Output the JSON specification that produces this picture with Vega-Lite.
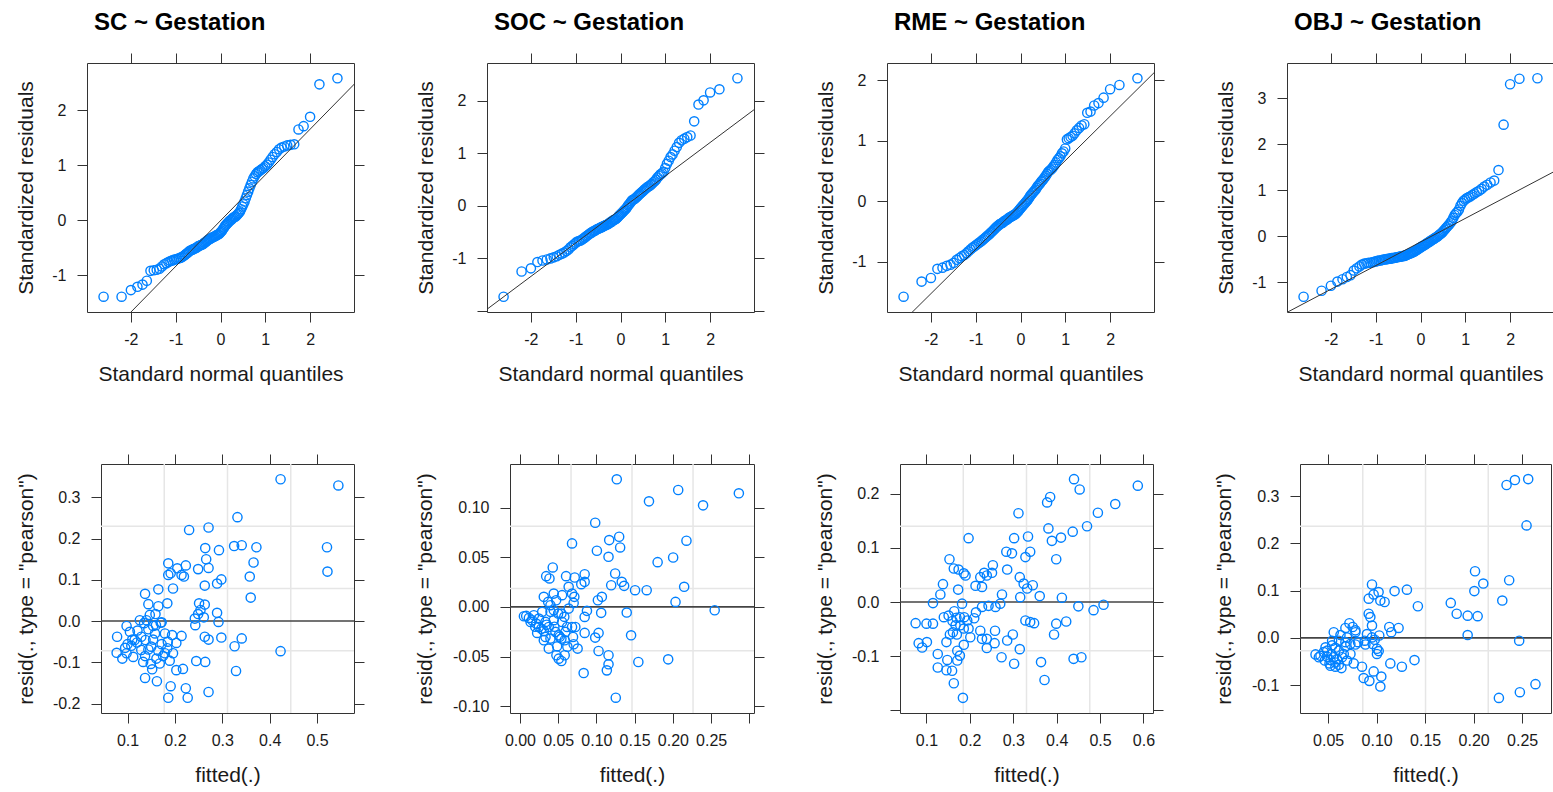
{
"$schema": "https://vega.github.io/schema/vega-lite/v6.json",
"background": "white",
"padding": {"left": 14, "top": 10, "right": 0, "bottom": 0},
"autosize": {"type": "pad"},
"datasets": {
"qq": [
{"q":-2.610,"sc":-1.39,"soc":-1.73,"rme":-1.58,"obj":-1.32},
{"q":-2.208,"sc":-1.39,"soc":-1.25,"rme":-1.33,"obj":-1.19},
{"q":-2.000,"sc":-1.27,"soc":-1.19,"rme":-1.27,"obj":-1.08},
{"q":-1.855,"sc":-1.21,"soc":-1.07,"rme":-1.12,"obj":-0.99},
{"q":-1.741,"sc":-1.17,"soc":-1.04,"rme":-1.10,"obj":-0.94},
{"q":-1.645,"sc":-1.10,"soc":-1.02,"rme":-1.07,"obj":-0.89},
{"q":-1.563,"sc":-0.92,"soc":-1.00,"rme":-1.05,"obj":-0.85},
{"q":-1.490,"sc":-0.91,"soc":-0.98,"rme":-1.02,"obj":-0.75},
{"q":-1.424,"sc":-0.90,"soc":-0.96,"rme":-0.97,"obj":-0.70},
{"q":-1.363,"sc":-0.88,"soc":-0.93,"rme":-0.94,"obj":-0.66},
{"q":-1.308,"sc":-0.84,"soc":-0.91,"rme":-0.91,"obj":-0.62},
{"q":-1.256,"sc":-0.80,"soc":-0.89,"rme":-0.89,"obj":-0.60},
{"q":-1.207,"sc":-0.78,"soc":-0.86,"rme":-0.86,"obj":-0.59},
{"q":-1.162,"sc":-0.76,"soc":-0.83,"rme":-0.83,"obj":-0.58},
{"q":-1.118,"sc":-0.74,"soc":-0.79,"rme":-0.80,"obj":-0.58},
{"q":-1.076,"sc":-0.73,"soc":-0.76,"rme":-0.77,"obj":-0.57},
{"q":-1.036,"sc":-0.72,"soc":-0.73,"rme":-0.75,"obj":-0.56},
{"q":-0.998,"sc":-0.71,"soc":-0.70,"rme":-0.73,"obj":-0.55},
{"q":-0.961,"sc":-0.70,"soc":-0.68,"rme":-0.71,"obj":-0.54},
{"q":-0.926,"sc":-0.69,"soc":-0.67,"rme":-0.69,"obj":-0.53},
{"q":-0.892,"sc":-0.68,"soc":-0.66,"rme":-0.67,"obj":-0.53},
{"q":-0.858,"sc":-0.67,"soc":-0.64,"rme":-0.65,"obj":-0.52},
{"q":-0.826,"sc":-0.65,"soc":-0.62,"rme":-0.63,"obj":-0.51},
{"q":-0.794,"sc":-0.63,"soc":-0.60,"rme":-0.61,"obj":-0.51},
{"q":-0.763,"sc":-0.61,"soc":-0.58,"rme":-0.59,"obj":-0.50},
{"q":-0.733,"sc":-0.59,"soc":-0.56,"rme":-0.57,"obj":-0.50},
{"q":-0.703,"sc":-0.57,"soc":-0.54,"rme":-0.55,"obj":-0.49},
{"q":-0.674,"sc":-0.55,"soc":-0.52,"rme":-0.53,"obj":-0.49},
{"q":-0.646,"sc":-0.54,"soc":-0.51,"rme":-0.51,"obj":-0.48},
{"q":-0.618,"sc":-0.53,"soc":-0.49,"rme":-0.49,"obj":-0.48},
{"q":-0.590,"sc":-0.52,"soc":-0.48,"rme":-0.47,"obj":-0.47},
{"q":-0.564,"sc":-0.51,"soc":-0.47,"rme":-0.45,"obj":-0.47},
{"q":-0.537,"sc":-0.50,"soc":-0.45,"rme":-0.43,"obj":-0.46},
{"q":-0.511,"sc":-0.48,"soc":-0.44,"rme":-0.41,"obj":-0.46},
{"q":-0.485,"sc":-0.47,"soc":-0.43,"rme":-0.40,"obj":-0.45},
{"q":-0.460,"sc":-0.46,"soc":-0.42,"rme":-0.38,"obj":-0.45},
{"q":-0.434,"sc":-0.45,"soc":-0.41,"rme":-0.37,"obj":-0.44},
{"q":-0.410,"sc":-0.44,"soc":-0.40,"rme":-0.36,"obj":-0.44},
{"q":-0.385,"sc":-0.43,"soc":-0.39,"rme":-0.35,"obj":-0.43},
{"q":-0.361,"sc":-0.41,"soc":-0.38,"rme":-0.33,"obj":-0.43},
{"q":-0.337,"sc":-0.40,"soc":-0.37,"rme":-0.32,"obj":-0.42},
{"q":-0.313,"sc":-0.38,"soc":-0.36,"rme":-0.31,"obj":-0.41},
{"q":-0.289,"sc":-0.37,"soc":-0.35,"rme":-0.30,"obj":-0.40},
{"q":-0.266,"sc":-0.35,"soc":-0.34,"rme":-0.28,"obj":-0.39},
{"q":-0.242,"sc":-0.34,"soc":-0.32,"rme":-0.27,"obj":-0.38},
{"q":-0.219,"sc":-0.33,"soc":-0.31,"rme":-0.26,"obj":-0.37},
{"q":-0.196,"sc":-0.32,"soc":-0.30,"rme":-0.25,"obj":-0.36},
{"q":-0.172,"sc":-0.31,"soc":-0.28,"rme":-0.24,"obj":-0.35},
{"q":-0.149,"sc":-0.30,"soc":-0.27,"rme":-0.23,"obj":-0.34},
{"q":-0.126,"sc":-0.29,"soc":-0.26,"rme":-0.22,"obj":-0.33},
{"q":-0.103,"sc":-0.28,"soc":-0.25,"rme":-0.21,"obj":-0.31},
{"q":-0.080,"sc":-0.27,"soc":-0.23,"rme":-0.19,"obj":-0.30},
{"q":-0.057,"sc":-0.26,"soc":-0.21,"rme":-0.17,"obj":-0.28},
{"q":-0.034,"sc":-0.25,"soc":-0.19,"rme":-0.15,"obj":-0.27},
{"q":-0.011,"sc":-0.23,"soc":-0.17,"rme":-0.13,"obj":-0.25},
{"q":0.011,"sc":-0.21,"soc":-0.15,"rme":-0.11,"obj":-0.24},
{"q":0.034,"sc":-0.19,"soc":-0.13,"rme":-0.09,"obj":-0.22},
{"q":0.057,"sc":-0.16,"soc":-0.11,"rme":-0.07,"obj":-0.21},
{"q":0.080,"sc":-0.13,"soc":-0.09,"rme":-0.05,"obj":-0.20},
{"q":0.103,"sc":-0.10,"soc":-0.07,"rme":-0.03,"obj":-0.18},
{"q":0.126,"sc":-0.08,"soc":-0.05,"rme":-0.01,"obj":-0.17},
{"q":0.149,"sc":-0.06,"soc":-0.02,"rme":0.01,"obj":-0.15},
{"q":0.172,"sc":-0.04,"soc":0.01,"rme":0.03,"obj":-0.14},
{"q":0.196,"sc":-0.02,"soc":0.03,"rme":0.06,"obj":-0.12},
{"q":0.219,"sc":0.00,"soc":0.06,"rme":0.09,"obj":-0.11},
{"q":0.242,"sc":0.01,"soc":0.09,"rme":0.11,"obj":-0.09},
{"q":0.266,"sc":0.03,"soc":0.11,"rme":0.13,"obj":-0.08},
{"q":0.289,"sc":0.05,"soc":0.12,"rme":0.15,"obj":-0.06},
{"q":0.313,"sc":0.06,"soc":0.13,"rme":0.17,"obj":-0.05},
{"q":0.337,"sc":0.07,"soc":0.15,"rme":0.19,"obj":-0.03},
{"q":0.361,"sc":0.09,"soc":0.17,"rme":0.22,"obj":-0.02},
{"q":0.385,"sc":0.11,"soc":0.19,"rme":0.25,"obj":0.00},
{"q":0.410,"sc":0.13,"soc":0.21,"rme":0.27,"obj":0.02},
{"q":0.434,"sc":0.16,"soc":0.23,"rme":0.29,"obj":0.04},
{"q":0.460,"sc":0.20,"soc":0.25,"rme":0.32,"obj":0.06},
{"q":0.485,"sc":0.25,"soc":0.27,"rme":0.34,"obj":0.08},
{"q":0.511,"sc":0.29,"soc":0.29,"rme":0.36,"obj":0.11},
{"q":0.537,"sc":0.34,"soc":0.31,"rme":0.39,"obj":0.14},
{"q":0.564,"sc":0.40,"soc":0.33,"rme":0.42,"obj":0.17},
{"q":0.590,"sc":0.46,"soc":0.35,"rme":0.45,"obj":0.20},
{"q":0.618,"sc":0.52,"soc":0.37,"rme":0.48,"obj":0.23},
{"q":0.646,"sc":0.58,"soc":0.38,"rme":0.50,"obj":0.26},
{"q":0.674,"sc":0.64,"soc":0.40,"rme":0.52,"obj":0.30},
{"q":0.703,"sc":0.70,"soc":0.42,"rme":0.54,"obj":0.34},
{"q":0.733,"sc":0.76,"soc":0.45,"rme":0.57,"obj":0.40},
{"q":0.763,"sc":0.80,"soc":0.47,"rme":0.60,"obj":0.46},
{"q":0.794,"sc":0.84,"soc":0.50,"rme":0.64,"obj":0.50},
{"q":0.826,"sc":0.87,"soc":0.54,"rme":0.68,"obj":0.53},
{"q":0.858,"sc":0.89,"soc":0.57,"rme":0.71,"obj":0.58},
{"q":0.892,"sc":0.91,"soc":0.60,"rme":0.74,"obj":0.66},
{"q":0.926,"sc":0.93,"soc":0.62,"rme":0.79,"obj":0.72},
{"q":0.961,"sc":0.95,"soc":0.65,"rme":0.82,"obj":0.77},
{"q":0.998,"sc":0.98,"soc":0.72,"rme":0.87,"obj":0.80},
{"q":1.036,"sc":1.01,"soc":0.80,"rme":1.02,"obj":0.83},
{"q":1.076,"sc":1.05,"soc":0.86,"rme":1.04,"obj":0.85},
{"q":1.118,"sc":1.10,"soc":0.93,"rme":1.06,"obj":0.87},
{"q":1.162,"sc":1.15,"soc":0.98,"rme":1.08,"obj":0.90},
{"q":1.207,"sc":1.20,"soc":1.05,"rme":1.12,"obj":0.93},
{"q":1.256,"sc":1.24,"soc":1.12,"rme":1.17,"obj":0.96},
{"q":1.308,"sc":1.29,"soc":1.20,"rme":1.21,"obj":0.99},
{"q":1.363,"sc":1.32,"soc":1.25,"rme":1.25,"obj":1.03},
{"q":1.424,"sc":1.34,"soc":1.28,"rme":1.27,"obj":1.08},
{"q":1.490,"sc":1.36,"soc":1.31,"rme":1.46,"obj":1.12},
{"q":1.563,"sc":1.37,"soc":1.34,"rme":1.48,"obj":1.17},
{"q":1.645,"sc":1.38,"soc":1.61,"rme":1.58,"obj":1.21},
{"q":1.741,"sc":1.65,"soc":1.93,"rme":1.62,"obj":1.44},
{"q":1.855,"sc":1.71,"soc":2.01,"rme":1.71,"obj":2.43},
{"q":2.000,"sc":1.88,"soc":2.16,"rme":1.85,"obj":3.31},
{"q":2.208,"sc":2.47,"soc":2.22,"rme":1.92,"obj":3.43},
{"q":2.610,"sc":2.58,"soc":2.43,"rme":2.03,"obj":3.44}
],
"qqline": [
{"m":"SC","x":-3.5,"y":-2.916},{"m":"SC","x":3.5,"y":2.901},
{"m":"SOC","x":-3.5,"y":-2.30},{"m":"SOC","x":3.5,"y":2.163},
{"m":"RME","x":-3.5,"y":-2.63},{"m":"RME","x":3.5,"y":2.503},
{"m":"OBJ","x":-3.5,"y":-1.929},{"m":"OBJ","x":3.5,"y":1.673}
],
"vgrid": [
{"m":"SC","v":0.1775},{"m":"SC","v":0.311},{"m":"SC","v":0.4445},
{"m":"SOC","v":0.0668},{"m":"SOC","v":0.1465},{"m":"SOC","v":0.2263},
{"m":"RME","v":0.1848},{"m":"RME","v":0.3305},{"m":"RME","v":0.4763},
{"m":"OBJ","v":0.0857},{"m":"OBJ","v":0.1504},{"m":"OBJ","v":0.215}
],
"hgrid": [
{"m":"SC","v":-0.072},{"m":"SC","v":0.079},{"m":"SC","v":0.230},
{"m":"SOC","v":-0.0442},{"m":"SOC","v":0.0185},{"m":"SOC","v":0.0811},
{"m":"RME","v":-0.09},{"m":"RME","v":0.025},{"m":"RME","v":0.14},
{"m":"OBJ","v":-0.0273},{"m":"OBJ","v":0.1045},{"m":"OBJ","v":0.2363}
],
"rsc": [
{"f":0.423,"r":0.344},{"f":0.545,"r":0.329},{"f":0.332,"r":0.252},{"f":0.230,"r":0.221},{"f":0.271,"r":0.227},{"f":0.325,"r":0.182},{"f":0.341,"r":0.184},{"f":0.372,"r":0.179},{"f":0.521,"r":0.179},{"f":0.264,"r":0.177},{"f":0.293,"r":0.172},{"f":0.266,"r":0.150},{"f":0.366,"r":0.142},{"f":0.186,"r":0.140},{"f":0.223,"r":0.135},{"f":0.205,"r":0.128},{"f":0.249,"r":0.126},{"f":0.271,"r":0.129},{"f":0.522,"r":0.120},{"f":0.191,"r":0.116},{"f":0.186,"r":0.112},{"f":0.214,"r":0.112},{"f":0.219,"r":0.108},{"f":0.358,"r":0.108},{"f":0.298,"r":0.101},{"f":0.289,"r":0.091},{"f":0.263,"r":0.086},{"f":0.196,"r":0.079},{"f":0.165,"r":0.077},{"f":0.137,"r":0.066},{"f":0.360,"r":0.057},{"f":0.144,"r":0.041},{"f":0.184,"r":0.043},{"f":0.251,"r":0.043},{"f":0.263,"r":0.040},{"f":0.165,"r":0.036},{"f":0.254,"r":0.027},{"f":0.289,"r":0.020},{"f":0.249,"r":0.017},{"f":0.159,"r":0.017},{"f":0.147,"r":0.015},{"f":0.242,"r":0.006},{"f":0.261,"r":0.009},{"f":0.126,"r":0.002},{"f":0.140,"r":0.002},{"f":0.292,"r":-0.002},{"f":0.170,"r":-0.004},{"f":0.243,"r":-0.010},{"f":0.098,"r":-0.012},{"f":0.154,"r":-0.012},{"f":0.172,"r":-0.003},{"f":0.105,"r":-0.026},{"f":0.121,"r":-0.023},{"f":0.144,"r":-0.020},{"f":0.078,"r":-0.038},{"f":0.129,"r":-0.038},{"f":0.158,"r":-0.030},{"f":0.179,"r":-0.030},{"f":0.194,"r":-0.034},{"f":0.214,"r":-0.036},{"f":0.263,"r":-0.038},{"f":0.271,"r":-0.045},{"f":0.298,"r":-0.040},{"f":0.341,"r":-0.042},{"f":0.138,"r":-0.046},{"f":0.154,"r":-0.045},{"f":0.100,"r":-0.056},{"f":0.115,"r":-0.046},{"f":0.203,"r":-0.053},{"f":0.326,"r":-0.061},{"f":0.172,"r":-0.056},{"f":0.184,"r":-0.066},{"f":0.144,"r":-0.069},{"f":0.165,"r":-0.072},{"f":0.423,"r":-0.073},{"f":0.077,"r":-0.077},{"f":0.098,"r":-0.078},{"f":0.129,"r":-0.070},{"f":0.179,"r":-0.078},{"f":0.196,"r":-0.078},{"f":0.089,"r":-0.091},{"f":0.112,"r":-0.087},{"f":0.137,"r":-0.085},{"f":0.161,"r":-0.091},{"f":0.189,"r":-0.096},{"f":0.133,"r":-0.099},{"f":0.245,"r":-0.097},{"f":0.264,"r":-0.099},{"f":0.149,"r":-0.104},{"f":0.168,"r":-0.103},{"f":0.152,"r":-0.117},{"f":0.203,"r":-0.119},{"f":0.217,"r":-0.116},{"f":0.329,"r":-0.121},{"f":0.137,"r":-0.138},{"f":0.162,"r":-0.146},{"f":0.191,"r":-0.158},{"f":0.223,"r":-0.163},{"f":0.271,"r":-0.172},{"f":0.186,"r":-0.186},{"f":0.227,"r":-0.186},{"f":0.095,"r":-0.065},{"f":0.108,"r":-0.060},{"f":0.120,"r":-0.052},{"f":0.150,"r":-0.062},{"f":0.175,"r":-0.085},{"f":0.160,"r":-0.010},{"f":0.135,"r":-0.005},{"f":0.110,"r":-0.045},{"f":0.185,"r":-0.050}
],
"rsoc": [
{"f":0.1266,"r":0.1284},{"f":0.2069,"r":0.1176},{"f":0.2862,"r":0.1143},{"f":0.1687,"r":0.1062},{"f":0.2394,"r":0.1022},{"f":0.0984,"r":0.0847},{"f":0.0681,"r":0.0639},{"f":0.1167,"r":0.0672},{"f":0.1297,"r":0.0706},{"f":0.1310,"r":0.0598},{"f":0.2177,"r":0.0666},{"f":0.1006,"r":0.0565},{"f":0.1158,"r":0.0504},{"f":0.2003,"r":0.0497},{"f":0.18,"r":0.045},{"f":0.0429,"r":0.0397},{"f":0.0343,"r":0.0309},{"f":0.0386,"r":0.0286},{"f":0.0603,"r":0.0309},{"f":0.0716,"r":0.0296},{"f":0.0846,"r":0.0329},{"f":0.1245,"r":0.0336},{"f":0.1331,"r":0.0252},{"f":0.1362,"r":0.0212},{"f":0.1193,"r":0.0218},{"f":0.0802,"r":0.0229},{"f":0.0846,"r":0.0252},{"f":0.0637,"r":0.0202},{"f":0.1505,"r":0.0168},{"f":0.1657,"r":0.0168},{"f":0.2147,"r":0.0202},{"f":0.0312,"r":0.0101},{"f":0.0442,"r":0.0134},{"f":0.0551,"r":0.0118},{"f":0.0681,"r":0.0134},{"f":0.0711,"r":0.0101},{"f":0.1071,"r":0.0101},{"f":0.1019,"r":0.0067},{"f":0.2034,"r":0.0050},{"f":0.0702,"r":0.0040},{"f":0.0369,"r":0.0050},{"f":0.0473,"r":0.0067},{"f":0.0399,"r":0.0017},{"f":0.0082,"r":-0.0091},{"f":0.0117,"r":-0.0111},{"f":0.016,"r":-0.0134},{"f":0.0291,"r":-0.005},{"f":0.0499,"r":-0.0067},{"f":0.0876,"r":-0.004},{"f":0.1062,"r":-0.006},{"f":0.1396,"r":-0.0057},{"f":0.2546,"r":-0.0034},{"f":0.0212,"r":-0.0168},{"f":0.0247,"r":-0.0202},{"f":0.0334,"r":-0.0151},{"f":0.0442,"r":-0.0134},{"f":0.0551,"r":-0.0151},{"f":0.0846,"r":-0.0101},{"f":0.0681,"r":-0.0202},{"f":0.0724,"r":-0.0202},{"f":0.0225,"r":-0.0262},{"f":0.0312,"r":-0.0242},{"f":0.0377,"r":-0.0202},{"f":0.0464,"r":-0.0252},{"f":0.0507,"r":-0.0286},{"f":0.0594,"r":-0.0252},{"f":0.0846,"r":-0.0262},{"f":0.1028,"r":-0.0262},{"f":0.0984,"r":-0.0309},{"f":0.1453,"r":-0.0286},{"f":0.0312,"r":-0.0336},{"f":0.0399,"r":-0.0319},{"f":0.0542,"r":-0.0319},{"f":0.0585,"r":-0.0336},{"f":0.0702,"r":-0.0376},{"f":0.0754,"r":-0.042},{"f":0.0377,"r":-0.042},{"f":0.0486,"r":-0.0397},{"f":0.1028,"r":-0.0444},{"f":0.1158,"r":-0.0487},{"f":0.0477,"r":-0.0487},{"f":0.0507,"r":-0.0521},{"f":0.0542,"r":-0.0545},{"f":0.0585,"r":-0.0487},{"f":0.1158,"r":-0.0578},{"f":0.1548,"r":-0.0555},{"f":0.1938,"r":-0.0528},{"f":0.1136,"r":-0.0639},{"f":0.0833,"r":-0.0666},{"f":0.1253,"r":-0.0914},{"f":0.0182,"r":-0.0084},{"f":0.0247,"r":-0.0118},{"f":0.0052,"r":-0.0094},{"f":0.0139,"r":-0.0151},{"f":0.0442,"r":-0.0034},{"f":0.0334,"r":-0.0303},{"f":0.0616,"r":-0.0202},{"f":0.0694,"r":-0.0303},{"f":0.0637,"r":-0.0017},{"f":0.0542,"r":-0.0067},{"f":0.045,"r":-0.020},{"f":0.052,"r":-0.030},{"f":0.035,"r":-0.018},{"f":0.058,"r":-0.010},{"f":0.028,"r":-0.022},{"f":0.062,"r":-0.040},{"f":0.040,"r":-0.005},{"f":0.020,"r":-0.020}
],
"rrme": [
{"f":0.440,"r":0.227},{"f":0.453,"r":0.208},{"f":0.587,"r":0.215},{"f":0.378,"r":0.184},{"f":0.385,"r":0.194},{"f":0.535,"r":0.181},{"f":0.312,"r":0.164},{"f":0.495,"r":0.165},{"f":0.470,"r":0.140},{"f":0.381,"r":0.136},{"f":0.437,"r":0.130},{"f":0.197,"r":0.118},{"f":0.302,"r":0.118},{"f":0.334,"r":0.121},{"f":0.410,"r":0.119},{"f":0.389,"r":0.113},{"f":0.284,"r":0.093},{"f":0.297,"r":0.090},{"f":0.339,"r":0.093},{"f":0.328,"r":0.083},{"f":0.399,"r":0.079},{"f":0.153,"r":0.079},{"f":0.163,"r":0.062},{"f":0.174,"r":0.060},{"f":0.286,"r":0.060},{"f":0.253,"r":0.068},{"f":0.186,"r":0.053},{"f":0.190,"r":0.049},{"f":0.233,"r":0.054},{"f":0.239,"r":0.049},{"f":0.224,"r":0.046},{"f":0.251,"r":0.054},{"f":0.315,"r":0.046},{"f":0.138,"r":0.033},{"f":0.173,"r":0.023},{"f":0.213,"r":0.030},{"f":0.228,"r":0.028},{"f":0.324,"r":0.034},{"f":0.345,"r":0.031},{"f":0.332,"r":0.025},{"f":0.132,"r":0.014},{"f":0.274,"r":0.014},{"f":0.361,"r":0.011},{"f":0.412,"r":0.008},{"f":0.316,"r":0.009},{"f":0.115,"r":-0.002},{"f":0.182,"r":-0.003},{"f":0.270,"r":-0.003},{"f":0.214,"r":-0.019},{"f":0.228,"r":-0.009},{"f":0.243,"r":-0.007},{"f":0.259,"r":-0.009},{"f":0.450,"r":-0.008},{"f":0.485,"r":-0.015},{"f":0.508,"r":-0.005},{"f":0.075,"r":-0.039},{"f":0.100,"r":-0.040},{"f":0.115,"r":-0.040},{"f":0.140,"r":-0.028},{"f":0.151,"r":-0.025},{"f":0.164,"r":-0.017},{"f":0.169,"r":-0.029},{"f":0.177,"r":-0.028},{"f":0.187,"r":-0.028},{"f":0.194,"r":-0.034},{"f":0.167,"r":-0.043},{"f":0.178,"r":-0.043},{"f":0.197,"r":-0.049},{"f":0.186,"r":-0.049},{"f":0.161,"r":-0.056},{"f":0.154,"r":-0.060},{"f":0.328,"r":-0.034},{"f":0.339,"r":-0.037},{"f":0.348,"r":-0.039},{"f":0.399,"r":-0.040},{"f":0.422,"r":-0.036},{"f":0.224,"r":-0.053},{"f":0.258,"r":-0.053},{"f":0.394,"r":-0.060},{"f":0.299,"r":-0.060},{"f":0.239,"r":-0.068},{"f":0.228,"r":-0.068},{"f":0.286,"r":-0.071},{"f":0.257,"r":-0.076},{"f":0.082,"r":-0.076},{"f":0.101,"r":-0.074},{"f":0.090,"r":-0.084},{"f":0.146,"r":-0.074},{"f":0.186,"r":-0.079},{"f":0.239,"r":-0.085},{"f":0.201,"r":-0.065},{"f":0.315,"r":-0.087},{"f":0.126,"r":-0.096},{"f":0.177,"r":-0.099},{"f":0.171,"r":-0.090},{"f":0.273,"r":-0.102},{"f":0.171,"r":-0.108},{"f":0.148,"r":-0.107},{"f":0.364,"r":-0.111},{"f":0.439,"r":-0.105},{"f":0.457,"r":-0.102},{"f":0.302,"r":-0.114},{"f":0.126,"r":-0.121},{"f":0.146,"r":-0.126},{"f":0.159,"r":-0.127},{"f":0.163,"r":-0.150},{"f":0.372,"r":-0.144},{"f":0.184,"r":-0.177},{"f":0.170,"r":-0.060},{"f":0.210,"r":-0.030},{"f":0.160,"r":-0.035}
],
"robj": [
{"f":0.2339,"r":0.3235},{"f":0.2425,"r":0.334},{"f":0.2562,"r":0.336},{"f":0.2545,"r":0.238},{"f":0.2014,"r":0.141},{"f":0.2366,"r":0.122},{"f":0.2099,"r":0.115},{"f":0.2007,"r":0.099},{"f":0.2295,"r":0.079},{"f":0.1764,"r":0.074},{"f":0.1825,"r":0.051},{"f":0.1938,"r":0.047},{"f":0.2041,"r":0.046},{"f":0.1938,"r":0.006},{"f":0.2469,"r":-0.006},{"f":0.226,"r":-0.127},{"f":0.2476,"r":-0.115},{"f":0.2637,"r":-0.098},{"f":0.0952,"r":0.113},{"f":0.0918,"r":0.083},{"f":0.0969,"r":0.092},{"f":0.102,"r":0.097},{"f":0.1038,"r":0.079},{"f":0.1082,"r":0.076},{"f":0.1185,"r":0.099},{"f":0.1312,"r":0.102},{"f":0.1425,"r":0.067},{"f":0.0918,"r":0.051},{"f":0.0935,"r":0.044},{"f":0.0952,"r":0.026},{"f":0.0719,"r":0.031},{"f":0.0753,"r":0.023},{"f":0.0781,"r":0.016},{"f":0.0678,"r":0.021},{"f":0.0558,"r":0.012},{"f":0.0627,"r":0.006},{"f":0.0695,"r":0.001},{"f":0.113,"r":0.023},{"f":0.1226,"r":0.021},{"f":0.1151,"r":0.012},{"f":0.1027,"r":0.005},{"f":0.0952,"r":0.001},{"f":0.098,"r":-0.004},{"f":0.0884,"r":-0.014},{"f":0.0959,"r":-0.013},{"f":0.1003,"r":-0.023},{"f":0.1021,"r":-0.028},{"f":0.1003,"r":-0.034},{"f":0.0808,"r":-0.009},{"f":0.0729,"r":-0.013},{"f":0.0678,"r":-0.018},{"f":0.0541,"r":-0.016},{"f":0.0575,"r":-0.021},{"f":0.0473,"r":-0.020},{"f":0.037,"r":-0.035},{"f":0.0421,"r":-0.038},{"f":0.049,"r":-0.040},{"f":0.0524,"r":-0.047},{"f":0.0575,"r":-0.052},{"f":0.061,"r":-0.057},{"f":0.0466,"r":-0.048},{"f":0.0534,"r":-0.034},{"f":0.0644,"r":-0.041},{"f":0.0695,"r":-0.048},{"f":0.0637,"r":-0.064},{"f":0.0575,"r":-0.061},{"f":0.0524,"r":-0.059},{"f":0.0764,"r":-0.054},{"f":0.0849,"r":-0.061},{"f":0.0969,"r":-0.071},{"f":0.1048,"r":-0.082},{"f":0.1141,"r":-0.054},{"f":0.126,"r":-0.061},{"f":0.139,"r":-0.047},{"f":0.0866,"r":-0.085},{"f":0.0925,"r":-0.091},{"f":0.1038,"r":-0.103},{"f":0.0781,"r":-0.014},{"f":0.0455,"r":-0.030},{"f":0.0404,"r":-0.041},{"f":0.061,"r":-0.027},{"f":0.0541,"r":-0.006},{"f":0.0781,"r":0.012},{"f":0.090,"r":0.008},{"f":0.0877,"r":-0.006},{"f":0.049,"r":-0.027},{"f":0.0558,"r":-0.041},{"f":0.0592,"r":-0.045},{"f":0.0514,"r":-0.054},{"f":0.0661,"r":-0.034},{"f":0.073,"r":-0.034},{"f":0.061,"r":-0.006},{"f":0.0678,"r":-0.009}
]
},
"vconcat": [
{
"spacing": 49,
"hconcat": [
{
"width": 267, "height": 249,
"title": {"text": "SC ~ Gestation"},
"layer": [
{"data": {"name": "qq"}, "mark": {"type": "point", "shape": "circle", "filled": false, "color": "#0080ff", "size": 85, "strokeWidth": 1.4, "opacity": 1},
 "encoding": {
  "x": {"field": "q", "type": "quantitative", "scale": {"domain": [-2.98, 2.98], "nice": false, "zero": false}, "axis": {"orient": "bottom", "title": "Standard normal quantiles", "values": [-2, -1, 0, 1, 2]}},
  "y": {"field": "sc", "type": "quantitative", "scale": {"domain": [-1.668, 2.858], "nice": false, "zero": false}, "axis": {"orient": "left", "title": "Standardized residuals", "values": [-1, 0, 1, 2], "minExtent": 41, "maxExtent": 41}}}},
{"data": {"name": "qqline"}, "transform": [{"filter": "datum.m == 'SC'"}], "mark": {"type": "line", "color": "#333333", "strokeWidth": 1, "clip": true},
 "encoding": {
  "x": {"field": "x", "type": "quantitative", "axis": {"orient": "top", "title": null, "labels": false, "values": [-2, -1, 0, 1, 2]}},
  "y": {"field": "y", "type": "quantitative", "axis": {"orient": "right", "title": null, "labels": false, "values": [-1, 0, 1, 2]}}}}
],
"resolve": {"axis": {"x": "independent", "y": "independent"}}
},
{
"width": 267, "height": 249,
"title": {"text": "SOC ~ Gestation"},
"layer": [
{"data": {"name": "qq"}, "mark": {"type": "point", "shape": "circle", "filled": false, "color": "#0080ff", "size": 85, "strokeWidth": 1.4, "opacity": 1},
 "encoding": {
  "x": {"field": "q", "type": "quantitative", "scale": {"domain": [-2.98, 2.98], "nice": false, "zero": false}, "axis": {"orient": "bottom", "title": "Standard normal quantiles", "values": [-2, -1, 0, 1, 2]}},
  "y": {"field": "soc", "type": "quantitative", "scale": {"domain": [-2.021, 2.721], "nice": false, "zero": false}, "axis": {"orient": "left", "title": "Standardized residuals", "values": [-2, -1, 0, 1, 2], "labelExpr": "datum.value == -2 ? '' : datum.label", "minExtent": 41, "maxExtent": 41}}}},
{"data": {"name": "qqline"}, "transform": [{"filter": "datum.m == 'SOC'"}], "mark": {"type": "line", "color": "#333333", "strokeWidth": 1, "clip": true},
 "encoding": {
  "x": {"field": "x", "type": "quantitative", "axis": {"orient": "top", "title": null, "labels": false, "values": [-2, -1, 0, 1, 2]}},
  "y": {"field": "y", "type": "quantitative", "axis": {"orient": "right", "title": null, "labels": false, "values": [-2, -1, 0, 1, 2]}}}}
],
"resolve": {"axis": {"x": "independent", "y": "independent"}}
},
{
"width": 267, "height": 249,
"title": {"text": "RME ~ Gestation"},
"layer": [
{"data": {"name": "qq"}, "mark": {"type": "point", "shape": "circle", "filled": false, "color": "#0080ff", "size": 85, "strokeWidth": 1.4, "opacity": 1},
 "encoding": {
  "x": {"field": "q", "type": "quantitative", "scale": {"domain": [-2.98, 2.98], "nice": false, "zero": false}, "axis": {"orient": "bottom", "title": "Standard normal quantiles", "values": [-2, -1, 0, 1, 2]}},
  "y": {"field": "rme", "type": "quantitative", "scale": {"domain": [-1.833, 2.283], "nice": false, "zero": false}, "axis": {"orient": "left", "title": "Standardized residuals", "values": [-1, 0, 1, 2], "minExtent": 41, "maxExtent": 41}}}},
{"data": {"name": "qqline"}, "transform": [{"filter": "datum.m == 'RME'"}], "mark": {"type": "line", "color": "#333333", "strokeWidth": 1, "clip": true},
 "encoding": {
  "x": {"field": "x", "type": "quantitative", "axis": {"orient": "top", "title": null, "labels": false, "values": [-2, -1, 0, 1, 2]}},
  "y": {"field": "y", "type": "quantitative", "axis": {"orient": "right", "title": null, "labels": false, "values": [-1, 0, 1, 2]}}}}
],
"resolve": {"axis": {"x": "independent", "y": "independent"}}
},
{
"width": 267, "height": 249,
"title": {"text": "OBJ ~ Gestation"},
"layer": [
{"data": {"name": "qq"}, "mark": {"type": "point", "shape": "circle", "filled": false, "color": "#0080ff", "size": 85, "strokeWidth": 1.4, "opacity": 1},
 "encoding": {
  "x": {"field": "q", "type": "quantitative", "scale": {"domain": [-2.98, 2.98], "nice": false, "zero": false}, "axis": {"orient": "bottom", "title": "Standard normal quantiles", "values": [-2, -1, 0, 1, 2]}},
  "y": {"field": "obj", "type": "quantitative", "scale": {"domain": [-1.653, 3.773], "nice": false, "zero": false}, "axis": {"orient": "left", "title": "Standardized residuals", "values": [-1, 0, 1, 2, 3], "minExtent": 41, "maxExtent": 41}}}},
{"data": {"name": "qqline"}, "transform": [{"filter": "datum.m == 'OBJ'"}], "mark": {"type": "line", "color": "#333333", "strokeWidth": 1, "clip": true},
 "encoding": {
  "x": {"field": "x", "type": "quantitative", "axis": {"orient": "top", "title": null, "labels": false, "values": [-2, -1, 0, 1, 2]}},
  "y": {"field": "y", "type": "quantitative", "axis": null}}}
],
"resolve": {"axis": {"x": "independent", "y": "independent"}}
}
]
},
{
"bounds": "flush",
"spacing": 13,
"hconcat": [
{"width": 1, "height": 249, "data": {"values": []}, "mark": {"type": "point", "opacity": 0}, "view": {"stroke": null}},
{
"spacing": 48,
"hconcat": [
{
"width": 253, "height": 249,
"layer": [
{"data": {"name": "vgrid"}, "transform": [{"filter": "datum.m == 'SC'"}], "mark": {"type": "rule", "color": "#e6e6e6", "strokeWidth": 1.5},
 "encoding": {"x": {"field": "v", "type": "quantitative", "scale": {"domain": [0.044, 0.578], "nice": false, "zero": false}, "axis": {"orient": "top", "title": null, "labels": false, "values": [0.1, 0.2, 0.3, 0.4, 0.5]}}}},
{"data": {"name": "hgrid"}, "transform": [{"filter": "datum.m == 'SC'"}], "mark": {"type": "rule", "color": "#e6e6e6", "strokeWidth": 1.5},
 "encoding": {"y": {"field": "v", "type": "quantitative", "scale": {"domain": [-0.223, 0.381], "nice": false, "zero": false}, "axis": {"orient": "right", "title": null, "labels": false, "values": [-0.2, -0.1, 0, 0.1, 0.2, 0.3]}}}},
{"data": {"values": [{"z": 0}]}, "mark": {"type": "rule", "color": "#444444", "strokeWidth": 1.6},
 "encoding": {"y": {"field": "z", "type": "quantitative", "axis": null}}},
{"data": {"name": "rsc"}, "mark": {"type": "point", "shape": "circle", "filled": false, "color": "#0080ff", "size": 85, "strokeWidth": 1.4, "opacity": 1},
 "encoding": {
  "x": {"field": "f", "type": "quantitative", "axis": {"orient": "bottom", "title": "fitted(.)", "values": [0.1, 0.2, 0.3, 0.4, 0.5], "format": ".1f"}},
  "y": {"field": "r", "type": "quantitative", "axis": {"orient": "left", "title": "resid(., type = \"pearson\")", "values": [-0.2, -0.1, 0, 0.1, 0.2, 0.3], "format": ".1f", "minExtent": 55, "maxExtent": 55}}}}
],
"resolve": {"axis": {"x": "independent", "y": "independent"}}
},
{
"width": 244, "height": 249,
"layer": [
{"data": {"name": "vgrid"}, "transform": [{"filter": "datum.m == 'SOC'"}], "mark": {"type": "rule", "color": "#e6e6e6", "strokeWidth": 1.5},
 "encoding": {"x": {"field": "v", "type": "quantitative", "scale": {"domain": [-0.013, 0.306], "nice": false, "zero": false}, "axis": {"orient": "top", "title": null, "labels": false, "values": [0, 0.05, 0.1, 0.15, 0.2, 0.25, 0.3]}}}},
{"data": {"name": "hgrid"}, "transform": [{"filter": "datum.m == 'SOC'"}], "mark": {"type": "rule", "color": "#e6e6e6", "strokeWidth": 1.5},
 "encoding": {"y": {"field": "v", "type": "quantitative", "scale": {"domain": [-0.1068, 0.1438], "nice": false, "zero": false}, "axis": {"orient": "right", "title": null, "labels": false, "values": [-0.1, -0.05, 0, 0.05, 0.1]}}}},
{"data": {"values": [{"z": 0}]}, "mark": {"type": "rule", "color": "#444444", "strokeWidth": 1.6},
 "encoding": {"y": {"field": "z", "type": "quantitative", "axis": null}}},
{"data": {"name": "rsoc"}, "mark": {"type": "point", "shape": "circle", "filled": false, "color": "#0080ff", "size": 85, "strokeWidth": 1.4, "opacity": 1},
 "encoding": {
  "x": {"field": "f", "type": "quantitative", "axis": {"orient": "bottom", "title": "fitted(.)", "values": [0, 0.05, 0.1, 0.15, 0.2, 0.25, 0.3], "format": ".2f", "labelExpr": "datum.value > 0.29 ? '' : datum.label"}},
  "y": {"field": "r", "type": "quantitative", "axis": {"orient": "left", "title": "resid(., type = \"pearson\")", "values": [-0.1, -0.05, 0, 0.05, 0.1], "format": ".2f", "minExtent": 65, "maxExtent": 65}}}}
],
"resolve": {"axis": {"x": "independent", "y": "independent"}}
},
{
"width": 253, "height": 249,
"layer": [
{"data": {"name": "vgrid"}, "transform": [{"filter": "datum.m == 'RME'"}], "mark": {"type": "rule", "color": "#e6e6e6", "strokeWidth": 1.5},
 "encoding": {"x": {"field": "v", "type": "quantitative", "scale": {"domain": [0.039, 0.622], "nice": false, "zero": false}, "axis": {"orient": "top", "title": null, "labels": false, "values": [0.1, 0.2, 0.3, 0.4, 0.5, 0.6]}}}},
{"data": {"name": "hgrid"}, "transform": [{"filter": "datum.m == 'RME'"}], "mark": {"type": "rule", "color": "#e6e6e6", "strokeWidth": 1.5},
 "encoding": {"y": {"field": "v", "type": "quantitative", "scale": {"domain": [-0.205, 0.255], "nice": false, "zero": false}, "axis": {"orient": "right", "title": null, "labels": false, "values": [-0.2, -0.1, 0, 0.1, 0.2]}}}},
{"data": {"values": [{"z": 0}]}, "mark": {"type": "rule", "color": "#444444", "strokeWidth": 1.6},
 "encoding": {"y": {"field": "z", "type": "quantitative", "axis": null}}},
{"data": {"name": "rrme"}, "mark": {"type": "point", "shape": "circle", "filled": false, "color": "#0080ff", "size": 85, "strokeWidth": 1.4, "opacity": 1},
 "encoding": {
  "x": {"field": "f", "type": "quantitative", "axis": {"orient": "bottom", "title": "fitted(.)", "values": [0.1, 0.2, 0.3, 0.4, 0.5, 0.6], "format": ".1f"}},
  "y": {"field": "r", "type": "quantitative", "axis": {"orient": "left", "title": "resid(., type = \"pearson\")", "values": [-0.2, -0.1, 0, 0.1, 0.2], "format": ".1f", "labelExpr": "datum.value < -0.15 ? '' : datum.label", "minExtent": 55, "maxExtent": 55}}}}
],
"resolve": {"axis": {"x": "independent", "y": "independent"}}
},
{
"width": 251, "height": 249,
"layer": [
{"data": {"name": "vgrid"}, "transform": [{"filter": "datum.m == 'OBJ'"}], "mark": {"type": "rule", "color": "#e6e6e6", "strokeWidth": 1.5},
 "encoding": {"x": {"field": "v", "type": "quantitative", "scale": {"domain": [0.021, 0.2797], "nice": false, "zero": false}, "axis": {"orient": "top", "title": null, "labels": false, "values": [0.05, 0.1, 0.15, 0.2, 0.25]}}}},
{"data": {"name": "hgrid"}, "transform": [{"filter": "datum.m == 'OBJ'"}], "mark": {"type": "rule", "color": "#e6e6e6", "strokeWidth": 1.5},
 "encoding": {"y": {"field": "v", "type": "quantitative", "scale": {"domain": [-0.159, 0.368], "nice": false, "zero": false}, "axis": null}}},
{"data": {"values": [{"z": 0}]}, "mark": {"type": "rule", "color": "#444444", "strokeWidth": 1.6},
 "encoding": {"y": {"field": "z", "type": "quantitative", "axis": null}}},
{"data": {"name": "robj"}, "mark": {"type": "point", "shape": "circle", "filled": false, "color": "#0080ff", "size": 85, "strokeWidth": 1.4, "opacity": 1},
 "encoding": {
  "x": {"field": "f", "type": "quantitative", "axis": {"orient": "bottom", "title": "fitted(.)", "values": [0.05, 0.1, 0.15, 0.2, 0.25], "format": ".2f"}},
  "y": {"field": "r", "type": "quantitative", "axis": {"orient": "left", "title": "resid(., type = \"pearson\")", "values": [-0.1, 0, 0.1, 0.2, 0.3], "format": ".1f", "minExtent": 56, "maxExtent": 56}}}}
],
"resolve": {"axis": {"x": "independent", "y": "independent"}}
}
]
}
]
}
],
"spacing": 68,
"config": {
"font": "Liberation Sans",
"locale": {"number": {"decimal": ".", "thousands": ",", "grouping": [3], "currency": ["$", ""], "minus": "-"}},
"view": {"stroke": "#333333", "strokeWidth": 1},
"title": {"anchor": "start", "frame": "group", "dx": 7, "offset": 18, "fontSize": 24, "fontWeight": "bold", "font": "Liberation Sans", "color": "#000000"},
"axis": {"domain": false, "grid": false, "ticks": true, "tickSize": 10, "tickColor": "#333333", "tickWidth": 1, "labelFont": "Liberation Sans", "labelFontSize": 16, "labelColor": "#1a1a1a", "titleFont": "Liberation Sans", "titleFontSize": 21, "titleFontWeight": "normal", "titleColor": "#1a1a1a", "labelFlush": false, "labelOverlap": false},
"axisLeft": {"labelPadding": 11, "titlePadding": 10},
"axisBottom": {"labelPadding": 9, "titlePadding": 16, "minExtent": 35, "maxExtent": 35},
"axisTop": {"labels": false, "minExtent": 10, "maxExtent": 10},
"axisRight": {"labels": false, "minExtent": 10, "maxExtent": 10}
}
}
